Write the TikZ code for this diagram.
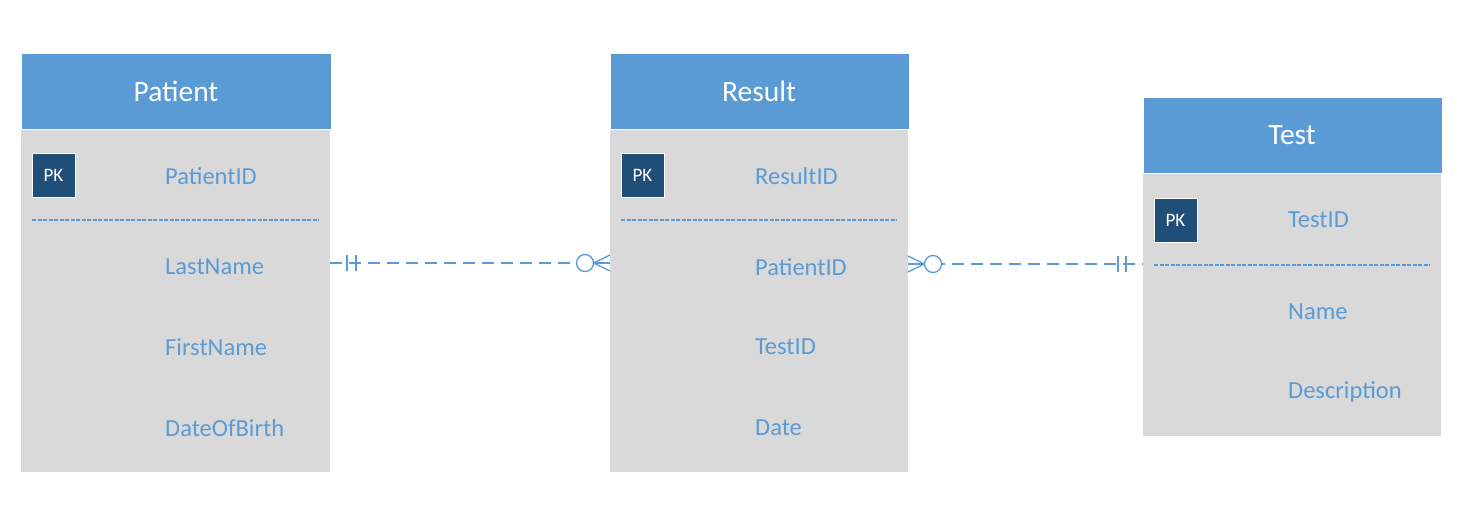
\documentclass[tikz,border=0pt]{standalone}
\usepackage{fontspec}
\setmainfont{Carlito}
\definecolor{hdr}{HTML}{5B9BD5}
\definecolor{bodyc}{HTML}{D9D9D9}
\definecolor{pkc}{HTML}{1F4E79}
\definecolor{attr}{HTML}{5B9BD5}
\tikzset{
  hdrbox/.style={fill=hdr, draw=white, line width=0.8pt},
  hdrtext/.style={text=white, font=\fontsize{29.5}{31}\selectfont},
  attrtext/.style={text=attr, anchor=west, inner sep=0pt, font=\fontsize{24.5}{27}\selectfont},
  pkbox/.style={fill=pkc, draw=white, line width=1pt, minimum width=43pt, minimum height=44pt, inner sep=0pt, text=white, font=\fontsize{19}{21}\selectfont},
  sepline/.style={draw=attr, line width=1.2pt, dash pattern=on 4pt off 1.5pt},
  rel/.style={draw=attr, line width=1.3pt, dash pattern=on 12pt off 7pt},
  crowline/.style={draw=attr, line width=1.3pt},
}
\begin{document}
\begin{tikzpicture}[x=1pt,y=-1pt]
\useasboundingbox (0,0) rectangle (1475,506);
% Patient
\fill[bodyc] (21,128) rectangle (330,472);
\node[hdrbox, minimum width=310pt, minimum height=76pt, anchor=north west, inner sep=0pt] (ph) at (20.5,52.5) {};
\node[hdrtext] (pht) at (176,91) {Patient};
\node[pkbox] (ppk) at (53.5,175) {PK};
\node[attrtext] (p1) at (165,176) {PatientID};
\coordinate (ps1) at (32,220); \coordinate (ps2) at (319,220);
\draw[sepline] (ps1) -- (ps2);
\node[attrtext] (p2) at (165,267) {LastName};
\node[attrtext] (p3) at (165,347) {FirstName};
\node[attrtext] (p4) at (165,428) {DateOfBirth};
\coordinate (pr) at (330,263);
% Result
\fill[bodyc] (610,128) rectangle (908,472);
\node[hdrbox, minimum width=299pt, minimum height=76pt, anchor=north west, inner sep=0pt] (rh) at (609.5,52.5) {};
\node[hdrtext] (rht) at (759,91) {Result};
\node[pkbox] (rpk) at (642.5,175) {PK};
\node[attrtext] (r1) at (755,176) {ResultID};
\coordinate (rs1) at (621,220); \coordinate (rs2) at (897,220);
\draw[sepline] (rs1) -- (rs2);
\node[attrtext] (r2) at (755,267) {PatientID};
\node[attrtext] (r3) at (755,347) {TestID};
\node[attrtext] (r4) at (755,428) {Date};
\coordinate (rl) at (610,263);
\coordinate (rr) at (908,264);
% Test
\fill[bodyc] (1143,173) rectangle (1441,436);
\node[hdrbox, minimum width=299pt, minimum height=76pt, anchor=north west, inner sep=0pt] (th) at (1142.5,97) {};
\node[hdrtext] (tht) at (1292,135) {Test};
\node[pkbox] (tpk) at (1175.5,220) {PK};
\node[attrtext] (t1) at (1288,220) {TestID};
\coordinate (ts1) at (1154,265); \coordinate (ts2) at (1430,265);
\draw[sepline] (ts1) -- (ts2);
\node[attrtext] (t2) at (1288,312) {Name};
\node[attrtext] (t3) at (1288,392) {Description};
\coordinate (tl) at (1143,264);
% Relationship Patient - Result
\coordinate (c1) at (585,263);
\draw[rel] (pr) -- (c1);
\draw[crowline] (347,255) -- (347,271);
\draw[crowline] (356,255) -- (356,271);
\draw[crowline, fill=white] (c1) circle (8.5);
\draw[crowline] (593.5,263) -- (rl);
\draw[crowline] (593.5,263) -- (610,255);
\draw[crowline] (593.5,263) -- (610,271);
% Relationship Result - Test
\coordinate (c2) at (933,264);
\draw[rel] (c2) -- (tl);
\draw[crowline] (1118,256) -- (1118,272);
\draw[crowline] (1126,256) -- (1126,272);
\draw[crowline, fill=white] (c2) circle (8.5);
\draw[crowline] (rr) -- (924.5,264);
\draw[crowline] (908,256) -- (924.5,264);
\draw[crowline] (908,272) -- (924.5,264);
\end{tikzpicture}
\end{document}
